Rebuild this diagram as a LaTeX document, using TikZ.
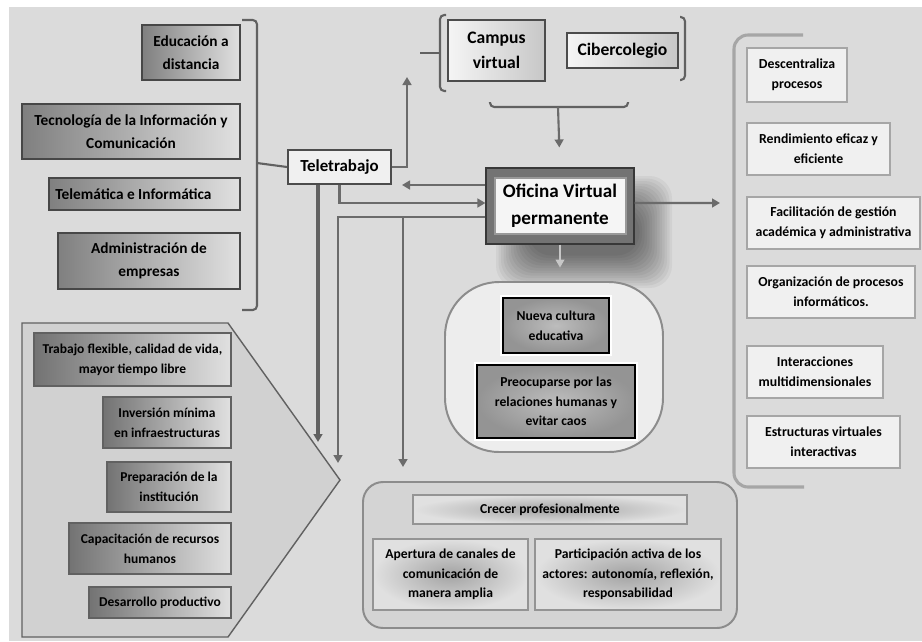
\documentclass[tikz,border=0pt]{standalone}
\usepackage{fontspec}
\setmainfont{Carlito}
\usetikzlibrary{arrows.meta}

\tikzset{
  bigbox/.style={draw=black!72, line width=1.1pt, left color=black!50, right color=black!12, align=center, inner sep=0pt, font=\bfseries\fontsize{10.9}{16}\selectfont},
  petbox/.style={draw=black!62, line width=1.1pt, left color=black!55, right color=black!12, align=center, inner sep=0pt, font=\bfseries\fontsize{9.6}{14}\selectfont},
  sidebox/.style={draw=black!35, line width=2pt, fill=black!6, align=center, inner sep=0pt, font=\bfseries\fontsize{9.8}{14.5}\selectfont},
  topbox/.style={draw=black!70, line width=1.1pt, left color=black!4, right color=black!22, align=center, inner sep=0pt, font=\bfseries\fontsize{12.5}{17.5}\selectfont},
  telebox/.style={draw=black!70, line width=1.3pt, fill=black!6, align=center, inner sep=0pt, font=\bfseries\fontsize{12}{15}\selectfont},
  ofibox/.style={draw=black!78, line width=0.8pt, fill=black!55, align=center, inner sep=0pt, font=\bfseries\fontsize{13.6}{19}\selectfont,
    path picture={\draw[black!40, fill=black!4] ([xshift=0.225cm,yshift=-0.25cm]path picture bounding box.north west) rectangle ([xshift=-0.2cm,yshift=0.25cm]path picture bounding box.south east);}},
  darkbox/.style={preaction={draw=white, line width=3.8pt}, draw=black, line width=1.6pt, inner color=black!26, outer color=black!42, align=center, inner sep=0pt, font=\bfseries\fontsize{9.7}{14}\selectfont},
  softbox/.style={draw=black!42, line width=1.6pt, inner color=black!36, outer color=black!12, align=center, inner sep=0pt, font=\bfseries\fontsize{9.7}{14}\selectfont},
  brack/.style={draw=black!62, line width=1.5pt, rounded corners=3pt},
  arr/.style={draw=black!58, line width=1.5pt, -{Triangle[length=\l, width=\w]}},
  fatarr/.style={draw=black!62, line width=3pt, -{Triangle[length=\l, width=\w]}},
}

\begin{document}
\begin{tikzpicture}[x=0.025cm, y=-0.025cm]
\def\l{2mm}
\def\w{2.2mm}

\useasboundingbox (0,0) rectangle (922,641);
\fill[white] (0,0) rectangle (922,641);
\fill[black!14] (9,7) rectangle (922,641);

% left column
\node[bigbox, minimum width=2.45cm, minimum height=1.375cm] (edu) at (191,52.5) {Educación a\\distancia};
\node[bigbox, minimum width=5.45cm, minimum height=1.375cm] (tic) at (131,131.5) {Tecnología de la Información y\\Comunicación};
\node[bigbox, minimum width=4.775cm, minimum height=0.8cm] (telem) at (144.5,194) {Telemática e Informática\hspace*{0.55cm}};
\node[bigbox, minimum width=4.55cm, minimum height=1.4cm] (adm) at (149,261) {Administración de\\empresas};
\draw[brack] (242,20) -- (257,20) -- (257,310) -- (242,310);
\coordinate (lb) at (257,163);

\node[telebox, minimum width=2.575cm, minimum height=0.85cm] (tele) at (339.5,167) {Teletrabajo};
\draw[brack] (lb) -- (tele.west);

% top
\node[topbox, minimum width=2.425cm, minimum height=1.525cm] (camp) at (496.5,50.5) {Campus\\virtual};
\node[topbox, minimum width=2.775cm, minimum height=0.875cm] (cib) at (622.5,50.5) {Cibercolegio};
\draw[brack] (446,15) -- (440,15) -- (440,91) -- (446,91);
\draw[brack] (440,53) -- (420,53);
\draw[brack] (680,17) -- (685,17) -- (685,80) -- (680,80);
\draw[brack] (490,102) -- (490,107) -- (628,107) -- (628,102);
\coordinate (tb) at (558,107);
\coordinate (cb) at (407,77);

% shadow + centre
\foreach \i in {0,...,13}
  \fill[black, opacity=0.045, rounded corners=16pt] (496+\i*2.5,176+\i*2.5) rectangle (672-\i*2.5,288-\i*2.5);
\node[ofibox, minimum width=3.7cm, minimum height=1.9cm] (ofi) at (560,206) {Oficina Virtual\\permanente};

\coordinate (tin) at (402,185);
\coordinate (fk) at (403,217);
\coordinate (d0) at (318,442);
\coordinate (d1) at (338,463);
\coordinate (d2) at (403,467);
\coordinate (rb) at (720,203);

\draw[arr] (tele.east) -| (cb);
\draw[arr] (tb) -- (ofi.north) [shorten >=0.5cm];
\draw[arr] (ofi.west |- tin) -- (tin);
\draw[arr] (tele.south) |- ([yshift=0.075cm]ofi.west);
\draw[arr] ([yshift=-0.275cm]ofi.west) -| (d1);
\draw[arr] (fk) -- (d2);
\draw[fatarr] (tele.south -| d0) -- (d0);
\draw[arr] ([yshift=0.075cm]ofi.east) -- (rb);
\draw[draw=black!22, line width=1pt, -{Triangle[length=\l, width=\w]}] (ofi.south) -- ++(0,23);

% right column
\draw[draw=black!35, line width=2.2pt, rounded corners=10pt] (803,35) -- (734,35) -- (734,487) -- (804,487);
\node[sidebox, minimum width=2.5cm, minimum height=1.35cm] (desc) at (797,75) {Descentraliza\\procesos};
\node[sidebox, minimum width=3.575cm, minimum height=1.3cm] (rend) at (818.5,149) {Rendimiento eficaz y\\eficiente};
\node[sidebox, minimum width=4.325cm, minimum height=1.3cm] (faci) at (833.5,223) {Facilitación de gestión\\académica y administrativa};
\node[sidebox, minimum width=4.2cm, minimum height=1.3cm] (org) at (831,292) {Organización de procesos\\informáticos.};
\node[sidebox, minimum width=3.4cm, minimum height=1.3cm] (inter) at (815,372) {Interacciones\\multidimensionales};
\node[sidebox, minimum width=3.825cm, minimum height=1.3cm] (estr) at (823.5,442) {Estructuras virtuales\\interactivas};

% pentagon
\draw[draw=black!62, line width=1pt, fill=black!18] (22,323) -- (228,323) -- (340,480) -- (228,637) -- (22,637) -- cycle;
\node[petbox, minimum width=4.925cm, minimum height=1.325cm] (trab) at (132.5,359.5) {Trabajo flexible, calidad de vida,\\mayor tiempo libre};
\node[petbox, minimum width=3.2cm, minimum height=1.275cm] (inv) at (167,422.5) {Inversión mínima\\en infraestructuras};
\node[petbox, minimum width=3.1cm, minimum height=1.25cm] (prep) at (169,487) {Preparación de la\\institución};
\node[petbox, minimum width=4.05cm, minimum height=1.275cm] (cap) at (150,548.5) {Capacitación de recursos\\humanos};
\node[petbox, minimum width=3.55cm, minimum height=0.775cm] (des) at (160,602.5) {Desarrollo productivo};

% culture
\draw[draw=black!45, line width=1.4pt, fill=black!7, rounded corners=1.35cm] (445,282) rectangle (663,452);
\node[darkbox, minimum width=2.65cm, minimum height=1.375cm] (nueva) at (556,325.5) {Nueva cultura\\educativa};
\node[darkbox, minimum width=3.95cm, minimum height=1.825cm] (preo) at (556,401.5) {Preocuparse por las\\relaciones humanas y\\evitar caos};

% bottom
\draw[draw=black!45, line width=1.4pt, fill=black!17, rounded corners=0.5cm] (363,482) rectangle (737,628);
\node[softbox, minimum width=6.85cm, minimum height=0.725cm] (crecer) at (550,509.5) {Crecer profesionalmente};
\node[softbox, minimum width=3.875cm, minimum height=1.775cm] (aper) at (450.5,574.5) {Apertura de canales de\\comunicación de\\manera amplia};
\node[softbox, minimum width=4.65cm, minimum height=1.775cm] (part) at (628,574.5) {Participación activa de los\\actores: autonomía, reflexión,\\responsabilidad};
\end{tikzpicture}
\end{document}
